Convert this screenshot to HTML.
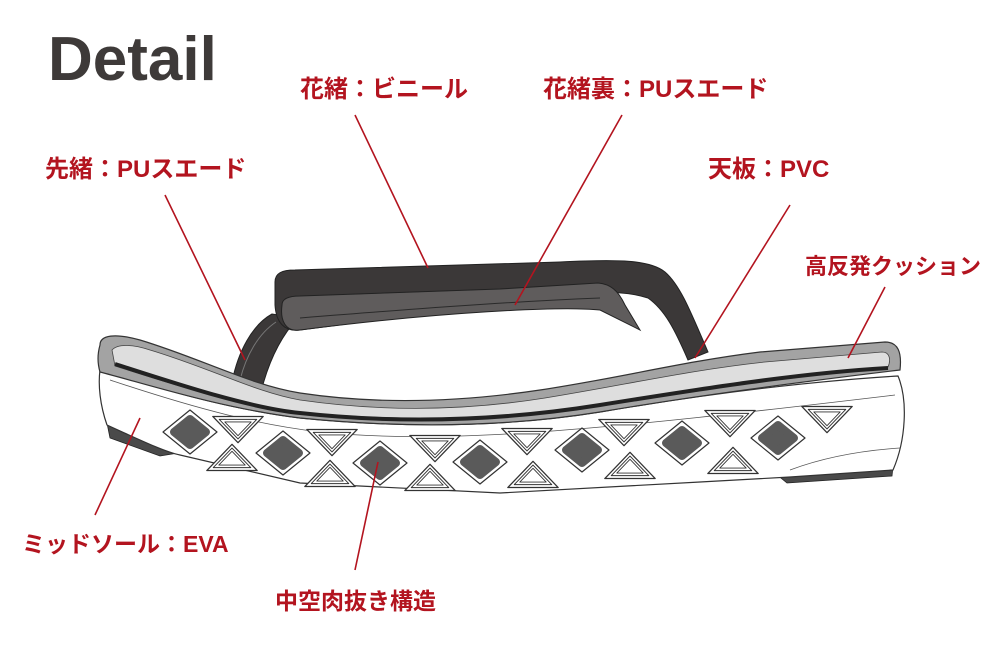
<!DOCTYPE html>
<html><head><meta charset="utf-8"><style>
body{margin:0;background:#fff;}
svg{display:block}
.l{font-family:"Liberation Sans","Noto Sans CJK JP",sans-serif;font-weight:bold;font-size:24px;fill:#b3141f}
</style></head><body>
<svg width="1000" height="667" viewBox="0 0 1000 667" xmlns="http://www.w3.org/2000/svg">
<defs>
<g id="td">
<path d="M-24,-11 L24,-11 L0,14Z" fill="#fff" stroke="#333" stroke-width="1.2" stroke-linejoin="round" transform="scale(1.05)"/>
<path d="M-24,-11 L24,-11 L0,14Z" fill="none" stroke="#333" stroke-width="1.3" stroke-linejoin="round" transform="scale(0.78)"/>
<path d="M-24,-11 L24,-11 L0,14Z" fill="none" stroke="#333" stroke-width="1.6" stroke-linejoin="round" transform="scale(0.55)"/>
</g>
<g id="tu"><use href="#td" transform="scale(1,-1)"/></g>
<g id="dm">
<path d="M-27,0 L0,-22 L27,0 L0,22Z" fill="#fff" stroke="#333" stroke-width="1.2" stroke-linejoin="round"/>
<path d="M-16,0 L0,-13 L16,0 L0,13Z" fill="#5a5a5a" stroke="#5a5a5a" stroke-width="8" stroke-linejoin="round"/>
</g>
</defs>
<text x="48" y="80" font-family="Liberation Sans,sans-serif" font-weight="bold" font-size="62" fill="#3e3a39">Detail</text>

<!-- heel shadows -->
<path d="M106,418 L110,438 L160,456 L178,453 L165,446 L115,428Z" fill="#4a4a4a" stroke="#222" stroke-width="0.8"/>
<path d="M776,474 L787,483 L892,476 L893,466 L800,472Z" fill="#4a4a4a" stroke="#222" stroke-width="0.8"/>

<!-- strap left piece -->
<path d="M232,382 C238,352 252,325 272,314 L298,318 C282,335 270,358 262,388Z" fill="#3b3838" stroke="#222" stroke-width="1"/>
<path d="M240,380 C246,356 258,334 276,322" fill="none" stroke="#777" stroke-width="1"/>
<!-- strap main -->
<path d="M275,282 C275,273 282,270 295,270 L560,262 C620,259 650,260 665,272 C680,285 690,310 708,352 L688,360 C675,330 665,310 648,298 C630,292 610,292 590,293 L300,330 C284,332 276,322 275,305Z" fill="#3b3838" stroke="#222" stroke-width="1"/>
<path d="M282,305 C282,298 290,296 300,296 C360,294 430,292 500,289 L598,283 C610,284 618,290 625,305 L640,330 L600,310 C560,306 440,312 300,330 C285,332 280,320 282,305Z" fill="#5f5c5c" stroke="#222" stroke-width="1"/>
<path d="M300,318 C400,310 500,302 600,298" fill="none" stroke="#2a2a2a" stroke-width="1"/>

<!-- midsole -->
<path d="M100,370 C98,385 100,405 107,425 C140,440 165,452 180,455 L300,483 L500,493 L700,482 L790,477 L893,470 C906,440 908,400 898,376 C800,382 700,395 600,412 C500,428 400,428 300,418 C220,408 150,385 100,370Z" fill="#fff" stroke="#333" stroke-width="1.2"/>
<path d="M110,380 C200,410 260,425 320,432 C450,445 600,430 895,395" fill="none" stroke="#555" stroke-width="0.8"/>
<path d="M790,470 C830,455 870,450 900,448" fill="none" stroke="#555" stroke-width="0.8"/>
<!-- footbed -->
<path d="M100,345 C100,335 115,333 140,340 C200,358 250,385 300,393 C380,405 460,402 540,390 C620,378 680,362 760,352 L885,342 C898,342 902,352 900,370 C800,382 700,395 600,412 C500,428 400,428 300,418 C220,408 150,385 100,372 C97,362 98,352 100,345Z" fill="#a3a3a3" stroke="#333" stroke-width="1.2"/>
<path d="M112,350 C118,343 135,345 150,350 C210,368 255,392 300,400 C390,413 470,410 545,398 C625,385 690,370 765,362 L882,352 C890,352 891,360 888,367 C800,372 700,388 600,405 C500,420 400,422 300,412 C230,404 160,380 115,366Z" fill="#dedede" stroke="#444" stroke-width="0.8"/>
<path d="M115,364 C180,385 250,408 300,413 C400,424 500,421 600,405 C700,389 800,373 888,368" fill="none" stroke="#222" stroke-width="4"/>

<!-- holes -->
<use href="#dm" x="190" y="432"/>
<use href="#dm" x="283" y="453"/>
<use href="#dm" x="380" y="463"/>
<use href="#dm" x="480" y="462"/>
<use href="#dm" x="582" y="450"/>
<use href="#dm" x="682" y="443"/>
<use href="#dm" x="778" y="438"/>
<use href="#td" x="238" y="428"/>
<use href="#td" x="332" y="441"/>
<use href="#td" x="435" y="447"/>
<use href="#td" x="527" y="440"/>
<use href="#td" x="624" y="431"/>
<use href="#td" x="730" y="422"/>
<use href="#td" x="827" y="418"/>
<use href="#tu" x="232" y="459"/>
<use href="#tu" x="330" y="475"/>
<use href="#tu" x="430" y="479"/>
<use href="#tu" x="533" y="476"/>
<use href="#tu" x="630" y="467"/>
<use href="#tu" x="733" y="462"/>

<!-- leader lines -->
<g stroke="#b3141f" stroke-width="1.6">
<line x1="355" y1="115" x2="428" y2="268"/>
<line x1="622" y1="115" x2="515" y2="305"/>
<line x1="165" y1="195" x2="245" y2="360"/>
<line x1="790" y1="205" x2="695" y2="358"/>
<line x1="885" y1="287" x2="848" y2="358"/>
<line x1="95" y1="515" x2="140" y2="418"/>
<line x1="355" y1="570" x2="378" y2="462"/>
</g>
<text class="l" x="300" y="97">花緒：ビニール</text>
<text class="l" x="543" y="97">花緒裏：PUスエード</text>
<text class="l" x="45" y="177">先緒：PUスエード</text>
<text class="l" x="708" y="177">天板：PVC</text>
<text class="l" x="805" y="274" style="font-size:22px">高反発クッション</text>
<text class="l" x="22" y="552" style="font-size:23px">ミッドソール：EVA</text>
<text class="l" x="275" y="609" style="font-size:23px">中空肉抜き構造</text>
</svg>
</body></html>
